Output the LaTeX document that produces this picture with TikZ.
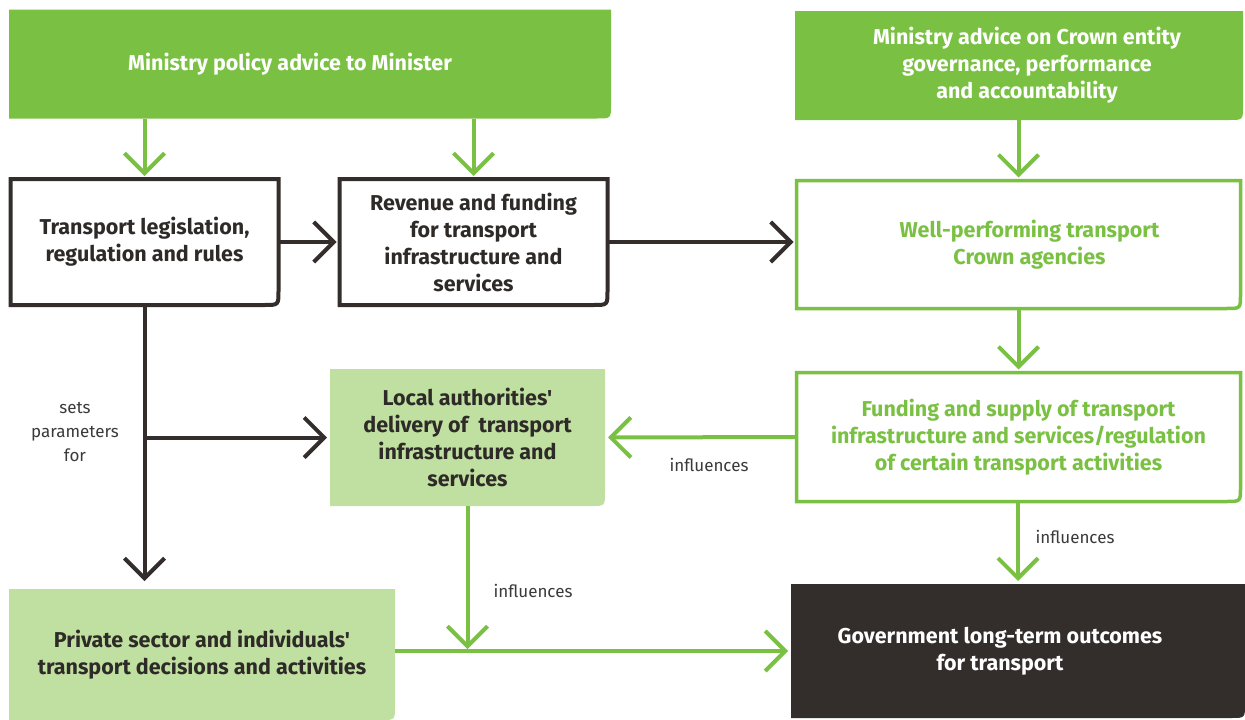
\documentclass[tikz,border=0pt]{standalone}
\usepackage{fontspec}
\setmainfont{Fira Sans}[Ligatures=TeXOff]
\usetikzlibrary{arrows.meta,backgrounds,calc}
\definecolor{grn}{HTML}{7AC143}
\definecolor{lgrn}{HTML}{BFE0A0}
\definecolor{drk}{HTML}{332D2B}
\definecolor{txtc}{HTML}{2E2A28}
\definecolor{lblc}{HTML}{3A3A3A}
\newcommand\rbx[2]{%
  \path[#2] (#1.north west) -- (#1.north east) -- ([yshift=14pt]#1.south east)
    .. controls (#1.south east) .. ([xshift=-14pt]#1.south east) -- (#1.south west) -- cycle;}
\begin{document}
\begin{tikzpicture}[x=1pt,y=-1pt,
  boxtext/.style={inner sep=0pt, outer sep=0pt, align=center,
    font=\fontsize{21.5}{27}\selectfont\bfseries},
  garrow/.style={draw=grn, line width=4pt, -{Straight Barb[length=20pt,width=40pt]}, shorten >=3pt},
  darrow/.style={draw=drk, line width=4pt, -{Straight Barb[length=20pt,width=40pt]}, shorten >=3pt},
  lbl/.style={font=\fontsize{17}{24}\selectfont, text=lblc, align=center, inner sep=0pt}]
\useasboundingbox (0,0) rectangle (1245,720);

\node[boxtext, minimum width=602pt, minimum height=109pt, text=white] (m1) at (310,64)
  {Ministry policy advice to Minister\hspace*{40pt}};
\node[boxtext, minimum width=448pt, minimum height=109pt, text=white] (m2) at (1019,65.5)
  {\hspace*{16pt}Ministry advice on Crown entity\\\hspace*{16pt}governance, performance\\\hspace*{16pt}and accountability};
\node[boxtext, minimum width=268pt, minimum height=126pt, text=txtc] (leg) at (144.5,242)
  {Transport legislation,\\regulation and rules};
\node[boxtext, minimum width=268pt, minimum height=126pt, text=txtc] (rev) at (473.5,242)
  {Revenue and funding\\for transport\\infrastructure and\\services};
\node[boxtext, minimum width=444pt, minimum height=128pt, text=grn] (well) at (1018.5,244.5)
  {\hspace*{22pt}Well-performing transport\\\hspace*{22pt}Crown agencies};
\node[boxtext, minimum width=444pt, minimum height=129pt, text=grn] (fund) at (1018.5,437)
  {Funding and supply of transport\\infrastructure and services/regulation\\of certain transport activities};
\node[boxtext, minimum width=275pt, minimum height=137pt, text=txtc] (local) at (467.5,437.5)
  {Local authorities'\\delivery of\ \ transport\\infrastructure and\\services};
\node[boxtext, minimum width=386pt, minimum height=131pt, text=txtc] (priv) at (202,654.5)
  {Private sector and individuals'\\transport decisions and activities};
\node[boxtext, minimum width=454pt, minimum height=134pt, text=white] (gov) at (1018,651)
  {Government long-term outcomes\hspace*{36pt}\\for transport\hspace*{36pt}};

\begin{scope}[on background layer]
  \fill[white] (0,0) rectangle (1245,720);
  \rbx{m1}{fill=grn}
  \rbx{m2}{fill=grn}
  \rbx{local}{fill=lgrn}
  \rbx{priv}{fill=lgrn}
  \rbx{gov}{fill=drk}
  \rbx{leg}{draw=drk, line width=4pt}
  \rbx{rev}{draw=drk, line width=4pt}
  \rbx{well}{draw=grn, line width=3.5pt}
  \rbx{fund}{draw=grn, line width=3.5pt}
\end{scope}

\draw[garrow] (m1.south -| leg.north) -- (leg.north);
\draw[garrow] (m1.south -| rev.north) -- (rev.north);
\draw[garrow] (m2.south -| well.north) -- (well.north);
\draw[garrow] (well.south -| fund.north) -- (fund.north);
\draw[darrow] (leg.east) -- (rev.west);
\draw[darrow] (rev.east) -- (rev.east -| well.west);
\draw[garrow] (fund.west) -- (local.east);
\draw[garrow] (fund.south -| gov.north) -- (gov.north);

\coordinate (br) at (leg.south |- local.west);
\draw[darrow] (leg.south) -- ([yshift=5pt]leg.south |- priv.north);
\draw[darrow] (br) -- (local.west);

\coordinate (jn) at (local.south |- gov.west);
\draw[garrow] (priv.east |- jn) -- (gov.west);
\draw[garrow, shorten >=2pt] (local.south) -- (jn);

\node[lbl] (l1) at (75,432) {sets\\parameters\\for};
\node[lbl] (l2) at (709,465) {influences};
\node[lbl] (l3) at (1075,537) {influences};
\node[lbl] (l4) at (533,591) {influences};
\end{tikzpicture}
\end{document}
